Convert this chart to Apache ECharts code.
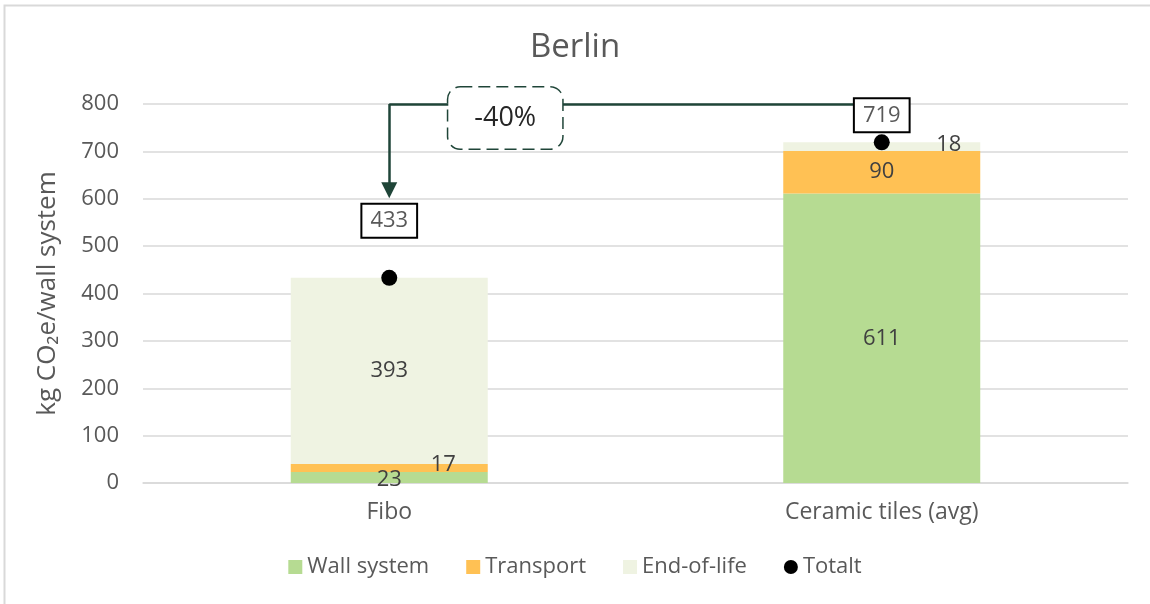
<!DOCTYPE html>
<html>
<head>
<meta charset="utf-8">
<title>Berlin</title>
<script src="https://cdn.jsdelivr.net/npm/echarts@6/dist/echarts.min.js"></script>
<style>
  html, body { margin: 0; padding: 0; background: #fff; }
  #chart { width: 1150px; height: 604px; }
</style>
</head>
<body>
<div id="chart"></div>
<script>
// chart data
var categories = ['Fibo', 'Ceramic tiles (avg)']
var wallSystem = [23, 611]
var transport = [17, 90]
var endOfLife = [393, 18]
var totalt = [433, 719]
var yTicks = { min: 0, max: 800, interval: 100 }
var reductionLabel = '-40%'

var textColor = '#595959'
var labelColor = '#404040'
var arrowColor = '#1f4538'
var font = 'Open Sans'

var chart = echarts.init(document.getElementById('chart'))

chart.setOption({
  textStyle: { fontFamily: font },
  animation: false,
  title: {
    text: 'Berlin',
    left: 'center',
    top: 26,
    textStyle: { fontSize: 33, fontWeight: 'normal', color: textColor, fontFamily: font }
  },
  graphic: [{
    type: 'rect',
    shape: { x: 4.5, y: 5.5, width: 1300, height: 800 },
    style: { fill: 'none', stroke: '#d9d9d9', lineWidth: 2 },
    silent: true
  }],
  grid: {
    left: 143,
    right: 22,
    top: 104,
    bottom: 121
  },
  legend: {
    bottom: 21,
    left: 'center',
    itemWidth: 14,
    itemHeight: 14,
    itemGap: 37,
    textStyle: { fontSize: 22, color: textColor, fontFamily: font },
    data: [
      { name: 'Wall system', icon: 'rect' },
      { name: 'Transport', icon: 'rect' },
      { name: 'End-of-life', icon: 'rect' },
      { name: 'Totalt', icon: 'circle' }
    ]
  },
  xAxis: {
    type: 'category',
    data: categories,
    axisTick: { show: false },
    axisLine: { lineStyle: { color: '#d9d9d9', width: 1.5 } },
    axisLabel: { fontSize: 23, color: textColor, margin: 18 }
  },
  yAxis: {
    type: 'value',
    min: yTicks.min,
    max: yTicks.max,
    interval: yTicks.interval,
    name: 'kg CO₂e/wall system',
    nameLocation: 'middle',
    nameGap: 82,
    nameTextStyle: { fontSize: 26, color: textColor, fontFamily: font },
    axisLine: { show: false },
    axisTick: { show: false },
    axisLabel: { fontSize: 22, color: textColor, margin: 24 },
    splitLine: { lineStyle: { color: '#d9d9d9', width: 1.5 } }
  },
  series: [
    {
      name: 'Wall system',
      type: 'bar',
      stack: 'total',
      barWidth: '40%',
      z: 2,
      itemStyle: { color: '#b6db92' },
      label: { show: true, position: 'inside', fontSize: 22, color: labelColor },
      data: [
        { value: wallSystem[0], label: { offset: [0, 2] } },
        wallSystem[1]
      ],
      markLine: {
        silent: true,
        symbol: ['none', 'none'],
        label: { show: false },
        lineStyle: { color: arrowColor, width: 2.5, type: 'solid' },
        data: [
          [{ coord: [categories[1], 800] }, { coord: [categories[0], 800] }],
          [{ coord: [categories[0], 800] }, { coord: [categories[0], 618], symbol: 'triangle', symbolSize: [16, 16] }]
        ]
      },
      markPoint: {
        silent: true,
        symbol: 'rect',
        symbolSize: 0,
        data: [{
          coord: [categories[0], 800],
          label: {
            show: true,
            position: 'inside',
            formatter: reductionLabel,
            offset: [116, 14],
            fontSize: 27,
            color: '#262626',
            backgroundColor: '#fff',
            borderColor: arrowColor,
            borderWidth: 1.5,
            borderType: 'dashed',
            borderRadius: 12,
            padding: [17, 26]
          }
        }]
      }
    },
    {
      name: 'Transport',
      type: 'bar',
      stack: 'total',
      itemStyle: { color: '#ffc154' },
      label: { show: true, position: 'inside', fontSize: 22, color: labelColor },
      data: [
        { value: transport[0], label: { offset: [54, -3] } },
        transport[1]
      ]
    },
    {
      name: 'End-of-life',
      type: 'bar',
      stack: 'total',
      itemStyle: { color: '#eff3e2' },
      label: { show: true, position: 'inside', fontSize: 22, color: labelColor },
      data: [
        endOfLife[0],
        { value: endOfLife[1], label: { offset: [67, -2] } }
      ]
    },
    {
      name: 'Totalt',
      type: 'scatter',
      z: 5,
      symbol: 'circle',
      symbolSize: 16,
      itemStyle: { color: '#000', opacity: 1 },
      label: {
        show: true,
        position: 'top',
        fontSize: 22,
        color: textColor,
        textBorderWidth: 0,
        backgroundColor: '#fff',
        borderColor: '#000',
        borderWidth: 2,
        padding: [5, 8]
      },
      data: [
        { value: totalt[0], label: { distance: 33 } },
        { value: totalt[1], label: { distance: 3 } }
      ]
    }
  ]
})
</script>
</body>
</html>
